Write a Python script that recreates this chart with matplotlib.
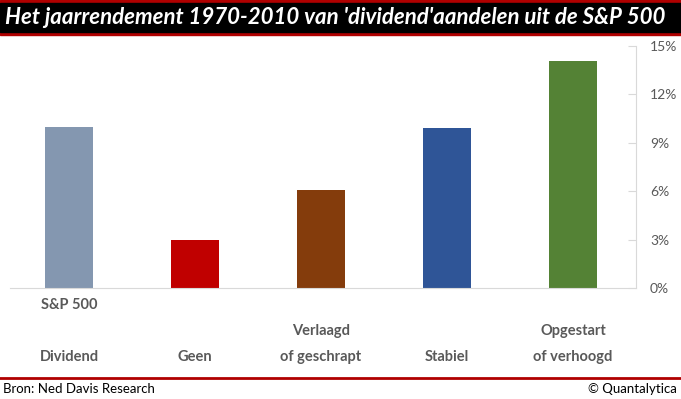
import matplotlib.pyplot as plt
from matplotlib.patches import Rectangle
from matplotlib.lines import Line2D
from matplotlib.ticker import FuncFormatter

# data (annual return %)
categories = [["S&P 500", "", "Dividend"],
              ["", "", "Geen"],
              ["", "Verlaagd", "of geschrapt"],
              ["", "", "Stabiel"],
              ["", "Opgestart", "of verhoogd"]]
returns = [10.0, 3.0, 6.1, 9.9, 14.1]
colors = ["#8497B0", "#C00000", "#843C0C", "#2F5597", "#548235"]
yticks = [0, 3, 6, 9, 12, 15]

title = "Het jaarrendement 1970-2010 van 'dividend'aandelen uit de S&P 500"
source = "Bron: Ned Davis Research"
credit = "\u00a9 Quantalytica"

W, H = 681, 399
fig = plt.figure(figsize=(W / 100, H / 100), dpi=100)
fig.patch.set_facecolor("white")

# title band
fig.patches.append(Rectangle((0, 1 - 35 / H), 1, 35 / H, transform=fig.transFigure,
                             color="#B00000", zorder=0))
fig.patches.append(Rectangle((0, 1 - 32 / H), 1, 29 / H, transform=fig.transFigure,
                             color="black", zorder=1))
fig.text(5 / W, 1 - 18 / H, title, color="white", fontsize=16, fontweight="bold",
         fontstyle="italic", family="Lato", va="center", ha="left", zorder=2)

# footer
fig.lines.append(Line2D([0, 1], [1 - 378 / H] * 2, transform=fig.transFigure,
                        color="#B00000", lw=2))
fig.text(3 / W, 1 - 389 / H, source, fontsize=9.5, family="Lato", va="center", ha="left")
fig.text(1 - 4 / W, 1 - 389 / H, credit, fontsize=9.5, family="Lato", va="center", ha="right")

ax = fig.add_axes([6 / W, 111 / H, 630 / W, 242 / H])
x = list(range(len(returns)))
ax.bar(x, returns, width=0.38, color=colors, zorder=2)
ax.set_xlim(-0.5, len(returns) - 0.5)
ax.set_ylim(0, 15)
ax.set_yticks(yticks)
ax.yaxis.set_major_formatter(FuncFormatter(lambda v, p: "%d%%" % v))
ax.yaxis.tick_right()
ax.tick_params(axis="y", direction="in", length=6, color="#D9D9D9", labelcolor="#595959",
               labelsize=10, pad=10)
for lab in ax.get_yticklabels():
    lab.set_family("Lato")
ax.set_xticks([])
for s in ["top", "left"]:
    ax.spines[s].set_visible(False)
ax.spines["right"].set_color("#D9D9D9")
ax.spines["bottom"].set_color("#D9D9D9")
ax.spines["bottom"].set_bounds(-0.47, len(returns) - 0.5)

# category labels in three rows (baseline positions in pixels)
row_y = [309, 335, 361]
for i, lines in enumerate(categories):
    for j, txt in enumerate(lines):
        if txt:
            ax.text(i, -(row_y[j] - 288) / 242, txt, transform=ax.get_xaxis_transform(),
                    fontsize=10.5, fontweight="bold", color="#595959", family="Lato",
                    ha="center", va="baseline")

fig.savefig("out.png", dpi=100)
